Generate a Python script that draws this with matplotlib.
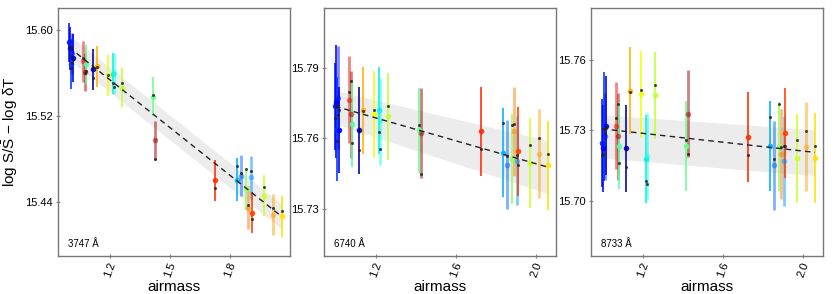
import numpy as np
import matplotlib.pyplot as plt
from matplotlib import cm

plt.rcParams['font.family'] = ['Liberation Sans', 'DejaVu Sans']
plt.rcParams['mathtext.fontset'] = 'custom'
plt.rcParams['mathtext.rm'] = 'Liberation Sans'

# airmass of each exposure (same in all three panels)
airmass = [0.995, 1.000, 1.005, 1.010, 1.014, 1.064, 1.073, 1.078, 1.113, 1.133,
           1.190, 1.213, 1.220, 1.262, 1.415, 1.423, 1.725, 1.836, 1.854, 1.878,
           1.891, 1.906, 1.911, 1.971, 2.017, 2.060]

# 3747 A
y_3747 = [15.5886, 15.5830, 15.5684, 15.5783, 15.5740, 15.5709, 15.5610, 15.5680,
          15.5637, 15.5662, 15.5579, 15.5594, 15.5600, 15.5463, 15.5380, 15.4974,
          15.4605, 15.4611, 15.4648, 15.4520, 15.4347, 15.4633, 15.4304, 15.4459,
          15.4282, 15.4270]
e_3747 = [0.018, 0.020, 0.023, 0.019, 0.022, 0.019, 0.018, 0.018, 0.019, 0.019,
          0.019, 0.019, 0.019, 0.018, 0.018, 0.018, 0.019, 0.020, 0.019, 0.019,
          0.020, 0.020, 0.019, 0.019, 0.019, 0.019]
m_3747 = [15.5849, 15.5760, 15.5644, 15.5690, 15.5735, 15.5742, 15.5600, 15.5620,
          15.5553, 15.5655, 15.5585, 15.5504, 15.5473, 15.5508, 15.5395, 15.4800,
          15.4533, 15.4735, 15.4673, 15.4704, 15.4378, 15.4690, 15.4245, 15.4537,
          15.4350, 15.4319]

# 6740 A
y_6740 = [15.7737, 15.7757, 15.7641, 15.7774, 15.7636, 15.7765, 15.7703, 15.7660,
          15.7634, 15.7719, 15.7702, 15.7719, 15.7674, 15.7695, 15.7634, 15.7623,
          15.7631, 15.7540, 15.7489, 15.7512, 15.7630, 15.7505, 15.7545, 15.7495,
          15.7535, 15.7485]
e_6740 = [0.0185, 0.024, 0.022, 0.022, 0.0185, 0.0185, 0.0185, 0.018, 0.0185, 0.0185,
          0.0185, 0.0185, 0.0185, 0.0185, 0.018, 0.019, 0.019, 0.019, 0.019, 0.019,
          0.019, 0.019, 0.019, 0.019, 0.019, 0.019]
m_6740 = [15.7687, 15.7736, 15.7591, 15.7698, 15.7720, 15.7797, 15.7843, 15.7582,
          15.7549, 15.7715, 15.7719, 15.7627, 15.7556, 15.7737, 15.7657, 15.7450,
          15.7557, 15.7665, 15.7526, 15.7658, 15.7660, 15.7531, 15.7488, 15.7573,
          15.7601, 15.7535]

# 8733 A
y_8733 = [15.7247, 15.7225, 15.7317, 15.7275, 15.7320, 15.7320, 15.7275, 15.7236,
          15.7225, 15.7468, 15.7454, 15.7179, 15.7190, 15.7450, 15.7235, 15.7371,
          15.7272, 15.7235, 15.7152, 15.7231, 15.7200, 15.7171, 15.7289, 15.7181,
          15.7231, 15.7184]
e_8733 = [0.0185, 0.0185, 0.023, 0.0185, 0.021, 0.0185, 0.0185, 0.0185, 0.0185, 0.0185,
          0.0185, 0.0185, 0.0185, 0.0185, 0.019, 0.0185, 0.019, 0.019, 0.019, 0.019,
          0.019, 0.019, 0.019, 0.019, 0.019, 0.019]
m_8733 = [15.7194, 15.7200, 15.7306, 15.7290, 15.7313, 15.7355, 15.7413, 15.7162,
          15.7143, 15.7462, 15.7471, 15.7087, 15.7071, 15.7494, 15.7258, 15.7200,
          15.7197, 15.7359, 15.7179, 15.7413, 15.7229, 15.7233, 15.7233, 15.7258,
          15.7297, 15.7235]

# fit line and band (values at first / last airmass)
fit_line = [(15.5840, 15.4265), (15.7737, 15.7478), (15.7307, 15.7207)]
fit_top = [(15.5955, 15.4380), (15.7804, 15.7591), (15.7367, 15.7303)]
fit_bot = [(15.5725, 15.4150), (15.7662, 15.7365), (15.7183, 15.7108)]

labels = ['3747 Å', '6740 Å', '8733 Å']
yticks = [[15.44, 15.52, 15.60], [15.73, 15.76, 15.79], [15.70, 15.73, 15.76]]
xticks = [[1.2, 1.5, 1.8], [1.2, 1.6, 2.0], [1.2, 1.6, 2.0]]
ylims = [(15.39, 15.6205), (15.710, 15.8155), (15.6767, 15.782)]

# jet colour of each exposure
cval = [0.15, 0.12, 0.18, 0.14, 0.10, 0.90, 0.96, 0.45, 0.04, 0.72,
        0.64, 0.36, 0.38, 0.58, 0.48, 0.98, 0.86, 0.30, 0.22, 0.53,
        0.78, 0.27, 0.84, 0.60, 0.74, 0.67]
light = [0, 0, 0, 1, 0, 1, 1, 0, 0, 0, 0, 0, 1, 0, 0, 1, 0, 0, 1, 0, 1, 1, 0, 0, 1, 0]

ys = [y_3747, y_6740, y_8733]
es = [e_3747, e_6740, e_8733]
ms = [m_3747, m_6740, m_8733]

fig = plt.figure(figsize=(8.39, 2.94), dpi=100)
lefts = [58 / 839, 324 / 839, 591 / 839]

for k in range(3):
    ax = fig.add_axes([lefts[k], 1 - 256 / 294, 232 / 839, 248 / 294])
    xe = [airmass[0], airmass[-1]]
    ax.fill_between(xe, fit_bot[k], fit_top[k], color='#ececec', lw=0, zorder=1)
    ax.plot(xe, fit_line[k], ls=(0, (4, 3)), color='#222222', lw=1.0, zorder=4)
    for i in range(len(airmass)):
        c = cm.jet(cval[i])
        a = 0.5 if light[i] else 0.9
        lw = 2.0 if light[i] else 1.3
        ax.errorbar(airmass[i], ys[k][i], yerr=es[k][i], fmt='o', color=c,
                    ms=4.0, mew=0, elinewidth=lw, alpha=a, zorder=2)
        ax.plot(airmass[i], ms[k][i], 'o', color='#222222', ms=2.2, mew=0,
                alpha=0.85, zorder=3)
    ax.set_xlim(0.94, 2.10)
    ax.set_ylim(*ylims[k])
    ax.set_yticks(yticks[k])
    ax.set_yticklabels(['%.2f' % v for v in yticks[k]])
    ax.set_xticks(xticks[k])
    ax.set_xticklabels(['%.1f' % v for v in xticks[k]], rotation=70)
    ax.tick_params(direction='inout', length=3, width=0.8, color='#888888',
                   labelsize=8, pad=2)
    for s in ax.spines.values():
        s.set_color('#777777')
        s.set_linewidth(1.0)
    ax.text(0.043, 0.036, labels[k], transform=ax.transAxes, fontsize=7)
    ax.set_xlabel('airmass', fontsize=11, labelpad=1)
    if k == 0:
        ax.set_ylabel(r'log S/$\bar{\mathrm{S}}$ $-$ log $\mathrm{\delta}$T',
                      fontsize=11)
        ax.yaxis.set_label_coords(-0.165, 0.5)

fig.savefig('out.png', dpi=100)
